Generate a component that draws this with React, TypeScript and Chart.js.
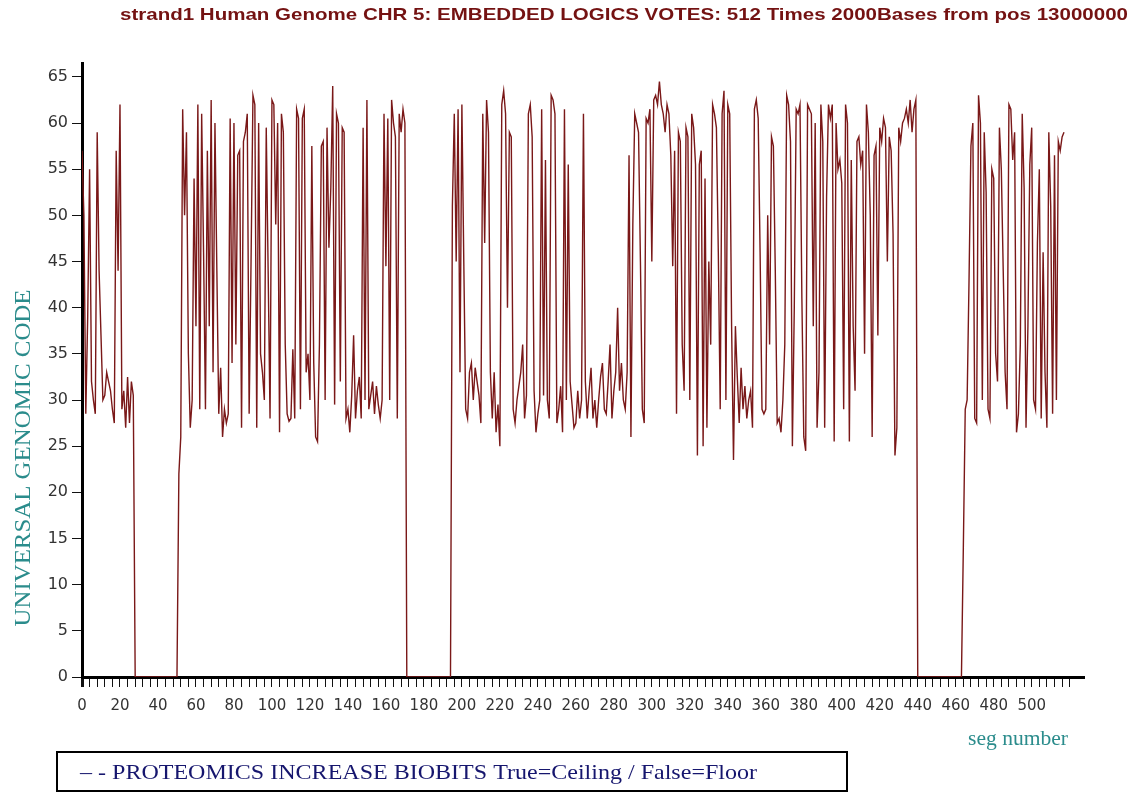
import React, { useEffect, useRef } from 'react';
import { Chart, registerables } from 'chart.js';

Chart.register(...registerables);

// ---- data (seg number = index, value = universal genomic code) ----
const runA = [57, 50, 28.5, 39, 55, 32, 30, 28.5, 59, 44, 37, 30, 30.5, 33, 32, 31, 29, 27.5, 57, 44, 62, 29, 31, 27, 32.5, 27.5, 32, 30.5, 0];
const gapA = [0, 0, 0, 0, 0, 0, 0, 0, 0, 0, 0, 0, 0, 0, 0, 0, 0, 0, 0, 0, 0];
const runB = [
  0, 22, 26, 61.5, 50, 59, 35, 27, 30, 54,
  38, 62, 29, 61, 46, 29, 57, 38, 62.5, 33,
  60, 44, 28.5, 33.5, 26, 29, 27.5, 28.5, 60.5, 34,
  60, 36, 56.5, 57, 27, 58, 59, 61, 28.5, 45,
  63, 62, 27, 60, 35, 33, 30, 59.5, 44, 28,
  62.5, 62, 49, 60, 26.5, 61, 59, 36, 28.5, 27.7,
  28, 35.5, 28, 61.5, 60.5, 29, 60.5, 61.5, 33, 35,
  30, 57.5, 34, 26, 25.5, 36, 57.5, 58, 30, 59.5,
  46.5, 53, 64, 29.5, 61, 60, 32, 59.5, 59, 28,
  29, 26.5, 30.5, 37, 28, 31, 32.5, 28, 59.5, 30,
  62.5, 29, 30.5, 32, 28.5, 31.5, 29.5, 28, 30, 61,
  44.5, 60.5, 30, 62.5, 60, 58.5, 28, 61, 59, 61.5,
  60, 0,
];
const gapB = [0, 0, 0, 0, 0, 0, 0, 0, 0, 0, 0, 0, 0, 0, 0, 0, 0, 0, 0, 0, 0, 0, 0];
const runC = [
  51, 61, 45, 61.5, 33,
  62, 45, 29, 28, 33, 34, 30, 33.5, 32, 30.5,
  27.5, 61, 47, 62.5, 59, 33, 28, 33, 26.5, 29.5,
  25, 62, 63.5, 61, 40, 59, 58.5, 29, 27.5, 30,
  31.5, 33, 36, 28, 30.5, 61, 62, 58.5, 31, 26.5,
  28.5, 30, 61.5, 30.5, 56, 30, 28, 63, 62.5, 61,
  27.5, 29, 31.5, 26.5, 61.5, 30, 55.5, 32, 29.5, 27,
  27.5, 31, 28, 30, 61, 32, 28, 31, 33.5, 28,
  30, 27, 30, 32.5, 34, 29, 28.5, 32, 36, 28,
  31, 33, 40, 31, 34, 30, 29, 33, 56.5, 26,
  49, 61, 60, 59, 45, 29, 27.5, 60.5, 60, 61.5,
  45, 62.5, 63, 62, 64.5, 62, 61, 59, 62, 61,
  56.5, 44.5, 57, 28.5, 59, 58, 36, 31, 59.5, 58.5,
  30, 61, 59.5, 55.5, 24, 55.5, 57, 25, 54, 27,
  45, 36, 62, 61, 59.5, 46, 29, 61, 63.5, 30,
  62, 61, 38, 23.5, 38, 32.5, 27.5, 33.5, 29, 31.5,
  28, 30, 31, 27, 61.5, 62.5, 60.5, 46, 29, 28.5,
  29, 50, 36, 58.5, 57.5, 44, 27.5, 28, 26.5, 30,
  36, 63, 62, 58, 25, 40, 61.5, 61, 62, 41,
  26, 24.5, 62, 61.5, 61, 38, 60, 27, 33, 62,
  58, 27, 52, 62, 60.5, 62, 25.5, 60, 55, 56,
  53.5, 29, 62, 60, 25.5, 56, 38, 31, 58, 58.5,
  55.5, 57, 35, 62, 59, 50, 26, 56.5, 57.5, 37,
  59.5, 58, 60.5, 59.5, 45, 58.5, 57, 48, 24, 27,
  59.5, 58, 60, 60.5, 61.5, 60, 62.5, 59, 61.5, 62.5,
  0,
];
const gapC = [0, 0, 0, 0, 0, 0, 0, 0, 0, 0, 0, 0, 0, 0, 0, 0, 0, 0, 0, 0, 0, 0, 0];
const runD = [
  14, 29, 30, 43, 57.5, 60,
  28, 27.5, 63, 60, 30, 59, 52.5, 29, 28, 55,
  54, 35, 32, 59.5, 55, 44, 33, 29, 62, 61.5,
  56, 59, 26.5, 28.5, 36, 61, 53, 27, 38, 55.5,
  59.5, 30, 29, 47, 55, 28, 46, 33, 27, 59,
  51, 28.5, 56.5, 30, 58, 57, 58.5, 59,
];

const yTickValues = [0, 5, 10, 15, 20, 25, 30, 35, 40, 45, 50, 55, 60, 65];
const xLabelValues = [0, 20, 40, 60, 80, 100, 120, 140, 160, 180, 200, 220, 240, 260, 280, 300, 320, 340, 360, 380, 400, 420, 440, 460, 480, 500];
const X_TICK_STEP = 4;
const X_TICK_LAST = 520;

const TITLE = 'strand1 Human Genome CHR 5: EMBEDDED LOGICS VOTES: 512 Times 2000Bases from pos 13000000';
const Y_TITLE = 'UNIVERSAL GENOMIC CODE';
const X_TITLE = 'seg number';
const LEGEND_TEXT = '\u2013 - PROTEOMICS INCREASE BIOBITS True=Ceiling / False=Floor';

const votes = [...runA, ...gapA, ...runB, ...gapB, ...runC, ...gapC, ...runD];

function drawFitted(
  ctx: CanvasRenderingContext2D,
  text: string,
  x: number,
  y: number,
  targetW: number,
  font: string,
  color: string,
  rotate = 0,
  align: CanvasTextAlign = 'center'
) {
  ctx.save();
  ctx.font = font;
  const w = ctx.measureText(text).width;
  const s = targetW / w;
  ctx.translate(x, y);
  if (rotate) ctx.rotate(rotate);
  ctx.scale(s, 1);
  ctx.fillStyle = color;
  ctx.textAlign = align;
  ctx.textBaseline = 'middle';
  ctx.fillText(text, 0, 0);
  ctx.restore();
}

const decorPlugin = {
  id: 'decor',
  afterDraw(chart: any) {
    const ctx: CanvasRenderingContext2D = chart.ctx;
    drawFitted(ctx, TITLE, 624, 15, 1008, 'bold 17px "Liberation Sans", Arial, sans-serif', '#741212');
    drawFitted(ctx, Y_TITLE, 24, 458, 337, '23px "Liberation Serif", "Times New Roman", serif', '#2b8c8c', -Math.PI / 2);
    drawFitted(ctx, X_TITLE, 1018, 739, 100, '22px "Liberation Serif", "Times New Roman", serif', '#2b8c8c');
    ctx.save();
    ctx.strokeStyle = '#000';
    ctx.lineWidth = 2;
    ctx.strokeRect(57, 752, 790, 39);
    ctx.restore();
    drawFitted(ctx, LEGEND_TEXT, 80, 773, 677, '21px "Liberation Serif", "Times New Roman", serif', '#16166e', 0, 'left');
  },
};

export default function App() {
  const ref = useRef<HTMLCanvasElement>(null);

  useEffect(() => {
    if (!ref.current) return;
    const points = votes.map((v, i) => ({ x: i, y: v }));
    const chart = new Chart(ref.current, {
      type: 'line',
      data: {
        datasets: [
          {
            label: 'votes',
            data: points,
            borderColor: '#7a1818',
            borderWidth: 1.4,
            pointRadius: 0,
            tension: 0,
            fill: false,
          },
        ],
      },
      options: {
        animation: false,
        responsive: false,
        devicePixelRatio: 1,
        layout: { padding: { left: 0, right: 55, top: 63, bottom: 0 } },
        plugins: {
          legend: { display: false },
          title: { display: false },
          tooltip: { enabled: false },
        },
        scales: {
          x: {
            type: 'linear',
            min: 0,
            max: 527,
            afterBuildTicks: (scale: any) => {
              const t = [];
              for (let v = 0; v <= X_TICK_LAST; v += X_TICK_STEP) t.push({ value: v });
              scale.ticks = t;
            },
            afterFit: (scale: any) => {
              scale.height = 115;
            },
            ticks: {
              autoSkip: false,
              maxRotation: 0,
              minRotation: 0,
              padding: 10,
              color: '#333',
              font: { family: '"DejaVu Sans", Verdana, sans-serif', size: 15 },
              callback: (v: any) => (xLabelValues.includes(Number(v)) ? String(v) : ''),
            },
            grid: {
              drawOnChartArea: false,
              drawTicks: true,
              tickLength: 10,
              color: '#111',
              lineWidth: (c: any) => (c.index === 0 ? 3 : 1),
            },
            border: { display: true, color: '#000', width: 3 },
          },
          y: {
            type: 'linear',
            min: 0,
            max: 66.5,
            afterBuildTicks: (scale: any) => {
              scale.ticks = yTickValues.map((v) => ({ value: v }));
            },
            afterFit: (scale: any) => {
              scale.width = 82;
            },
            ticks: {
              padding: 4,
              color: '#333',
              font: { family: '"DejaVu Sans", Verdana, sans-serif', size: 16 },
            },
            grid: {
              drawOnChartArea: false,
              drawTicks: true,
              tickLength: 10,
              color: '#111',
              lineWidth: 1,
            },
            border: { display: true, color: '#000', width: 3 },
          },
        },
      },
      plugins: [decorPlugin],
    } as any);
    return () => chart.destroy();
  }, []);

  return (
    <div style={{ position: 'absolute', left: 0, top: 0, width: 1138, height: 792, background: '#fff' }}>
      <canvas ref={ref} width={1138} height={792} style={{ display: 'block' }} />
    </div>
  );
}
